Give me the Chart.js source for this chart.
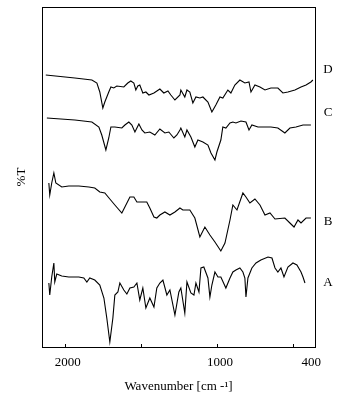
<!DOCTYPE html>
<html>
<head>
<meta charset="utf-8">
<script src="https://cdn.jsdelivr.net/npm/chart.js@4/dist/chart.umd.min.js"></script>
<style>
  html, body { margin: 0; padding: 0; background: #fff; }
</style>
</head>
<body>
<canvas id="ir" width="342" height="403"></canvas>
<script>
// IR spectra A-D, wavenumber (cm-1) and %T (arbitrary offset units)
const wnA = [2105, 2099, 2086, 2072, 2066, 2053, 2020, 1974, 1908, 1875, 1855, 1836, 1803, 1770, 1743, 1724, 1704, 1684, 1671, 1651, 1638, 1612, 1592, 1572, 1546, 1526, 1507, 1487, 1467, 1441, 1414, 1395, 1375, 1355, 1329, 1309, 1276, 1250, 1237, 1211, 1197, 1171, 1151, 1138, 1118, 1105, 1086, 1059, 1046, 1033, 1013, 993, 974, 941, 914, 895, 875, 849, 829, 816, 809, 796, 770, 743, 711, 664, 638, 618, 599, 579, 559, 533, 500, 474, 447, 434, 421];
const tA = [64, 52, 70, 84, 65, 73, 71, 70, 70, 69, 65, 69, 67, 62, 49, 29, 5, 29, 52, 55, 64, 57, 53, 59, 60, 64, 47, 59, 39, 49, 40, 59, 64, 67, 52, 57, 32, 55, 59, 34, 65, 54, 52, 64, 55, 79, 80, 69, 50, 62, 75, 70, 70, 59, 69, 75, 77, 79, 75, 69, 50, 69, 79, 84, 87, 90, 89, 79, 75, 79, 70, 80, 84, 82, 75, 70, 64];

const wnB = [2105, 2099, 2086, 2072, 2059, 2020, 1974, 1908, 1842, 1803, 1770, 1737, 1704, 1671, 1625, 1605, 1572, 1546, 1526, 1493, 1461, 1441, 1414, 1395, 1375, 1342, 1309, 1276, 1243, 1224, 1178, 1145, 1112, 1079, 1046, 1013, 974, 947, 914, 895, 868, 829, 809, 783, 750, 717, 684, 651, 618, 553, 520, 493, 467, 447, 414, 382];
const tB = [164, 152, 164, 174, 164, 160, 161, 161, 160, 159, 155, 154, 148, 142, 134, 140, 150, 150, 145, 145, 145, 139, 130, 129, 132, 135, 132, 135, 139, 137, 137, 129, 110, 120, 112, 105, 96, 104, 127, 142, 137, 154, 150, 144, 148, 142, 132, 134, 128, 129, 124, 120, 127, 124, 129, 129];

const wnC = [2118, 1934, 1822, 1776, 1757, 1730, 1711, 1697, 1671, 1625, 1605, 1579, 1559, 1539, 1513, 1493, 1474, 1441, 1408, 1375, 1342, 1316, 1283, 1263, 1243, 1237, 1211, 1197, 1171, 1145, 1125, 1092, 1059, 1039, 1013, 1000, 974, 961, 941, 914, 895, 875, 842, 809, 789, 770, 730, 684, 645, 599, 553, 520, 480, 434, 382];
const tC = [229, 227, 225, 220, 212, 197, 209, 220, 220, 219, 222, 225, 222, 215, 223, 217, 214, 215, 212, 218, 214, 215, 209, 212, 217, 219, 210, 217, 210, 200, 207, 205, 202, 194, 187, 195, 207, 220, 219, 224, 225, 224, 226, 225, 217, 222, 220, 220, 220, 219, 214, 219, 220, 222, 222];

const wnD = [2125, 1934, 1822, 1789, 1770, 1750, 1737, 1711, 1697, 1678, 1658, 1612, 1586, 1566, 1546, 1533, 1520, 1507, 1487, 1467, 1447, 1414, 1375, 1349, 1322, 1303, 1276, 1243, 1237, 1211, 1197, 1178, 1158, 1138, 1112, 1092, 1059, 1033, 1007, 980, 961, 928, 908, 882, 849, 816, 789, 776, 750, 717, 684, 645, 599, 566, 533, 487, 447, 414, 382, 369];
const tD = [272, 269, 267, 264, 255, 239, 245, 255, 260, 259, 261, 260, 264, 266, 264, 257, 261, 262, 254, 255, 252, 254, 258, 254, 256, 252, 247, 252, 257, 250, 257, 255, 244, 250, 249, 250, 245, 235, 242, 250, 249, 257, 254, 262, 267, 264, 265, 255, 262, 260, 257, 259, 259, 254, 255, 257, 260, 262, 265, 267];

const seriesNames = ['A', 'B', 'C', 'D'];
const xTickLabels = [2000, 1000, 400];
const xMinorTicks = [2000, 1500, 1000, 500];

const serif = 'Liberation Serif, Times New Roman, serif';

function toPoints(wn, t) {
    return wn.map((w, i) => ({ x: w, y: t[i] }));
}

// frame, inward ticks and the A-D tags
const framePlugin = {
    id: 'frame',
    afterDraw(chart) {
        const { ctx, chartArea: a, scales } = chart;
        ctx.save();
        ctx.strokeStyle = '#000';
        ctx.lineWidth = 1;
        ctx.strokeRect(Math.round(a.left) + 0.5, Math.round(a.top) + 0.5,
            Math.round(a.right - a.left), Math.round(a.bottom - a.top));
        xMinorTicks.forEach(v => {
            const px = Math.round(scales.x.getPixelForValue(v)) + 0.5;
            ctx.beginPath();
            ctx.moveTo(px, a.bottom);
            ctx.lineTo(px, a.bottom - 3);
            ctx.stroke();
        });
        const tagLevels = { A: 64, B: 125, C: 234, D: 277 };
        ctx.fillStyle = '#000';
        ctx.font = '13px ' + serif;
        ctx.textAlign = 'center';
        ctx.textBaseline = 'middle';
        seriesNames.forEach(n => {
            ctx.fillText(n, a.right + 13, scales.y.getPixelForValue(tagLevels[n]));
        });
        ctx.restore();
    }
};

const spectra = [
    toPoints(wnA, tA),
    toPoints(wnB, tB),
    toPoints(wnC, tC),
    toPoints(wnD, tD)
];

new Chart(document.getElementById('ir'), {
    type: 'line',
    data: {
        datasets: spectra.map((pts, i) => ({
            label: seriesNames[i],
            data: pts,
            borderColor: '#000',
            borderWidth: 1.1,
            pointRadius: 0,
            tension: 0
        }))
    },
    plugins: [framePlugin],
    options: {
        responsive: false,
        animation: false,
        layout: { padding: { top: 7, right: 27, left: 0, bottom: 0 } },
        plugins: {
            legend: { display: false },
            tooltip: { enabled: false }
        },
        scales: {
            x: {
                type: 'linear',
                reverse: true,
                min: 355,
                max: 2150,
                afterBuildTicks: (scale) => {
                    scale.ticks = xTickLabels.map(v => ({ value: v }));
                },
                afterFit: (scale) => { scale.height = 56; },
                grid: { display: false, drawTicks: false },
                border: { color: '#000' },
                ticks: {
                    color: '#000',
                    font: { family: serif, size: 13 },
                    padding: 8,
                    maxRotation: 0,
                    labelOffset: 3,
                    callback: (v) => String(v)
                },
                title: {
                    display: true,
                    text: 'Wavenumber [cm -¹]',
                    color: '#000',
                    font: { family: serif, size: 13 },
                    padding: { top: 4, bottom: 9 }
                }
            },
            y: {
                min: 0,
                max: 340,
                afterFit: (scale) => { scale.width = 42; },
                grid: { display: false, drawTicks: false },
                border: { color: '#000' },
                ticks: { display: false },
                title: {
                    display: true,
                    text: '%T',
                    color: '#000',
                    font: { family: serif, size: 13 },
                    padding: { top: 14, bottom: 0 }
                }
            }
        }
    }
});
</script>
</body>
</html>
